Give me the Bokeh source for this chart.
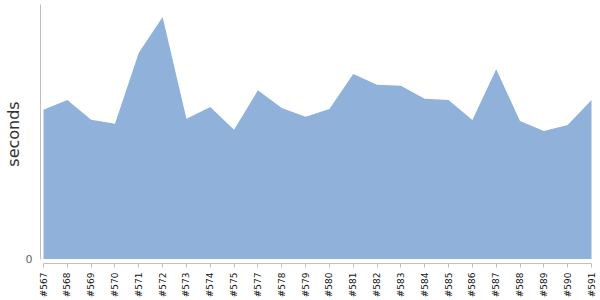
import numpy as np
from bokeh.plotting import figure
from bokeh.models import FixedTicker, Range1d
from bokeh.embed import file_html
from bokeh.resources import INLINE

builds = ["#567", "#568", "#569", "#570", "#571", "#572", "#573", "#574", "#575",
          "#577", "#578", "#579", "#580", "#581", "#582", "#583", "#584", "#585",
          "#586", "#587", "#588", "#589", "#590", "#591"]
seconds = [149.3, 159.0, 139.3, 135.3, 206.3, 242.0, 140.3, 152.0, 129.3,
           168.7, 151.0, 142.3, 150.0, 185.0, 174.3, 173.3, 160.3, 159.0,
           139.0, 189.7, 138.0, 128.0, 134.0, 159.0]

idx = list(range(len(builds)))
n = len(builds) - 1
pad = 3 / (548 / n)

p = figure(width=600, height=300, output_backend="svg", toolbar_location=None,
           x_range=Range1d(-pad, n + pad), y_range=Range1d(-4.5, 254.5),
           min_border_left=40, min_border_right=6, min_border_top=4,
           min_border_bottom=37)
p.outline_line_color = None
p.background_fill_color = "white"
p.border_fill_color = "white"
p.xgrid.visible = False
p.ygrid.visible = False

p.varea(x=idx, y1=[0] * len(idx), y2=seconds, fill_color="#8FB1DA", fill_alpha=1.0)

xa = p.xaxis[0]
xa.ticker = FixedTicker(ticks=idx)
xa.major_label_overrides = {i: b for i, b in zip(idx, builds)}
xa.major_label_orientation = np.pi / 2
xa.major_label_text_font = "DejaVu Sans"
xa.major_label_text_font_size = "9px"
xa.major_label_text_color = "#111111"
xa.major_label_standoff = 5
xa.major_tick_in = 0
xa.major_tick_out = 4
xa.major_tick_line_color = "#C0C0C0"
xa.minor_tick_line_color = None
xa.axis_line_color = "#C0C0C0"
xa.bounds = (0, n)

ya = p.yaxis[0]
ya.ticker = FixedTicker(ticks=[0])
ya.major_tick_in = 0
ya.major_tick_out = 0
ya.minor_tick_in = 0
ya.minor_tick_out = 0
ya.major_tick_line_color = None
ya.minor_tick_line_color = None
ya.axis_line_color = "#C0C0C0"
ya.bounds = (-0.5, 254.5)
ya.major_label_text_font = "DejaVu Sans"
ya.major_label_text_font_size = "11px"
ya.major_label_text_color = "#666666"
ya.major_label_standoff = 8
ya.axis_label = "seconds"
ya.axis_label_text_font = "DejaVu Sans"
ya.axis_label_text_font_size = "16px"
ya.axis_label_text_font_style = "normal"
ya.axis_label_text_color = "#333333"
ya.axis_label_standoff = 0

open("out.html", "w").write(file_html(p, INLINE))
